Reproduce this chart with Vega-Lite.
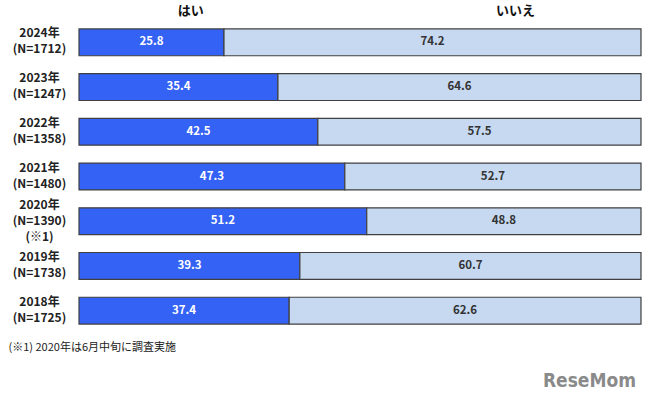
{
  "$schema": "https://vega.github.io/schema/vega-lite/v6.json",
  "width": 562,
  "height": 313,
  "autosize": {"type": "none"},
  "padding": {"left": 79, "top": 20, "right": 9, "bottom": 74},
  "background": "white",
  "config": {"font": "Noto Sans CJK JP", "view": {"stroke": null}},
  "title": {
    "text": "ReseMom",
    "orient": "bottom",
    "anchor": "end",
    "frame": "group",
    "font": "'DejaVu Sans Condensed', 'Liberation Sans Narrow', 'DejaVu Sans', sans-serif",
    "fontSize": 19,
    "fontWeight": "bold",
    "color": "#8a8a8a",
    "dx": -5,
    "offset": 20
  },
  "data": {
    "values": [
      {"year": "2024年\n(N=1712)", "answer": "はい", "k": 1, "value": 25.8},
      {"year": "2024年\n(N=1712)", "answer": "いいえ", "k": 2, "value": 74.2},
      {"year": "2023年\n(N=1247)", "answer": "はい", "k": 1, "value": 35.4},
      {"year": "2023年\n(N=1247)", "answer": "いいえ", "k": 2, "value": 64.6},
      {"year": "2022年\n(N=1358)", "answer": "はい", "k": 1, "value": 42.5},
      {"year": "2022年\n(N=1358)", "answer": "いいえ", "k": 2, "value": 57.5},
      {"year": "2021年\n(N=1480)", "answer": "はい", "k": 1, "value": 47.3},
      {"year": "2021年\n(N=1480)", "answer": "いいえ", "k": 2, "value": 52.7},
      {"year": "2020年\n(N=1390)\n(※1)", "answer": "はい", "k": 1, "value": 51.2},
      {"year": "2020年\n(N=1390)\n(※1)", "answer": "いいえ", "k": 2, "value": 48.8},
      {"year": "2019年\n(N=1738)", "answer": "はい", "k": 1, "value": 39.3},
      {"year": "2019年\n(N=1738)", "answer": "いいえ", "k": 2, "value": 60.7},
      {"year": "2018年\n(N=1725)", "answer": "はい", "k": 1, "value": 37.4},
      {"year": "2018年\n(N=1725)", "answer": "いいえ", "k": 2, "value": 62.6}
    ]
  },
  "encoding": {
    "y": {
      "field": "year",
      "type": "nominal",
      "sort": null,
      "scale": {"paddingInner": 0.4, "paddingOuter": 0.2},
      "axis": {
        "title": null,
        "domain": false,
        "ticks": false,
        "tickSize": 0,
        "labelPadding": 40,
        "labelAlign": "center",
        "labelBaseline": "line-bottom",
        "labelOffset": {"condition": {"test": "indexof(datum.value, '※') >= 0", "value": -7.5}, "value": 0},
        "labelExpr": "split(datum.label, '\\n')",
        "labelFontSize": 12,
        "labelFontWeight": "bold",
        "labelColor": "#222222",
        "labelLineHeight": 16
      }
    },
    "x": {
      "field": "value",
      "type": "quantitative",
      "stack": "zero",
      "scale": {"domain": [0, 100], "nice": false},
      "axis": null
    },
    "order": {"field": "k", "type": "quantitative"}
  },
  "layer": [
    {
      "mark": {"type": "bar", "stroke": "#404040", "strokeWidth": 1.2},
      "encoding": {
        "color": {
          "field": "answer",
          "type": "nominal",
          "scale": {"domain": ["はい", "いいえ"], "range": ["#3462F4", "#C6D9F1"]},
          "legend": null
        },
        "x": {
          "field": "value",
          "type": "quantitative",
          "stack": "zero",
          "scale": {"domain": [0, 100], "nice": false},
          "axis": {
            "orient": "top",
            "values": [19.8, 77.6],
            "labelExpr": "datum.value < 50 ? 'はい' : 'いいえ'",
            "domain": false,
            "ticks": false,
            "grid": false,
            "labelPadding": 3,
            "labelFontSize": 13,
            "labelFontWeight": "bold",
            "labelColor": "#111111",
            "title": null
          }
        }
      }
    },
    {
      "mark": {"type": "text", "fontSize": 11.5, "fontWeight": "bold"},
      "encoding": {
        "x": {
          "field": "value",
          "type": "quantitative",
          "stack": "zero",
          "bandPosition": 0.5,
          "axis": {
            "orient": "bottom",
            "labels": false,
            "domain": false,
            "ticks": false,
            "grid": false,
            "title": "(※1) 2020年は6月中旬に調査実施",
            "titleAnchor": "start",
            "titleAlign": "left",
            "titleBaseline": "middle",
            "titleX": -71,
            "titleY": 14,
            "titleFontSize": 11,
            "titleFontWeight": "normal",
            "titleColor": "#222222"
          }
        },
        "text": {"field": "value", "type": "quantitative", "format": ".1f"},
        "color": {
          "condition": {"test": "datum.answer === 'はい'", "value": "white"},
          "value": "#333333"
        }
      }
    }
  ]
}
